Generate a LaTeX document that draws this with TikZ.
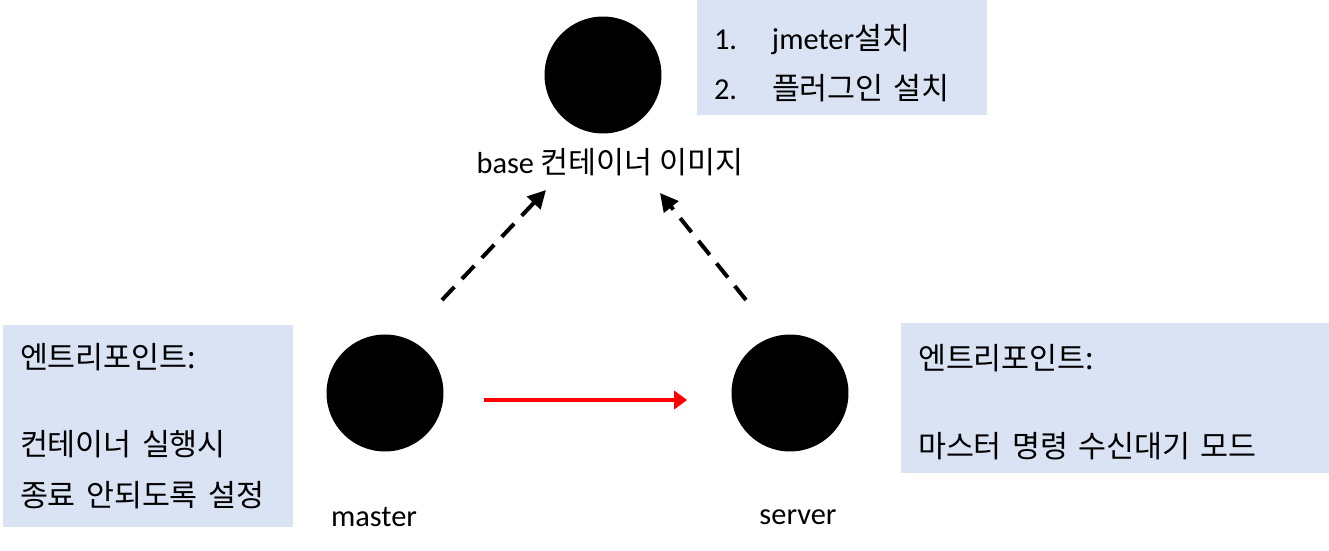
\documentclass[tikz,border=0pt]{standalone}
\usepackage{fontspec}
\setmainfont{Noto Sans CJK KR}
\newfontfamily\latinfont{Carlito}
\usetikzlibrary{arrows.meta, positioning}
\definecolor{noteblue}{RGB}{218,227,243}

\begin{document}
\begin{tikzpicture}[
		x=0.02cm, y=-0.02cm,
		% Define styles for the images, notes and arrows
		image_node/.style={
			circle,
			fill=black,
			minimum size=2.34cm,
			inner sep=0pt
		},
		note_box/.style={
			rectangle,
			fill=noteblue,
			align=left,
			inner xsep=0.34cm,
			inner ysep=0pt,
			font=\fontsize{17.3pt}{28.6pt}\selectfont
		},
		name_label/.style={
			inner sep=0pt,
			font=\fontsize{17.3pt}{20pt}\selectfont
		},
		build_arrow/.style={
			-{Triangle[length=0.36cm, width=0.36cm]},
			line width=0.08cm,
			dash pattern=on 0.36cm off 0.22cm
		},
		run_arrow/.style={
			-{Triangle[length=0.26cm, width=0.36cm]},
			line width=0.09cm,
			draw=red
		},
		]
		\useasboundingbox (0,0) rectangle (1329,551);
		
		% ----- Nodes -----
		% Container images
		\node[image_node] (base_image) at (603,75) {};
		\node[image_node] (master) at (385,393) {};
		\node[image_node] (server) at (790,393) {};
		
		% Image names
		\node[name_label] (base_label) at (610,162) {{\latinfont base} 컨테이너 이미지};
		\node[name_label] (master_label) at (374,517) {\latinfont master};
		\node[name_label] (server_label) at (798,517) {\latinfont server};
		
		% Notes
		\node[note_box, minimum width=5.8cm, minimum height=2.3cm, text width=5.12cm] (base_note) at (842,57.5)
			{\rule{0pt}{21pt}\makebox[1.16cm][l]{\latinfont 1.}{\latinfont jmeter}설치\\\makebox[1.16cm][l]{\latinfont 2.}플러그인 설치};
		\node[note_box, minimum width=5.8cm, minimum height=4.04cm, text width=5.12cm] (master_note) at (148,426)
			{엔트리포인트:\\[21pt]컨테이너 실행시\\종료 안되도록 설정};
		\node[note_box, minimum width=8.56cm, minimum height=3cm, text width=7.88cm] (server_note) at (1115,398)
			{\rule{0pt}{19pt}엔트리포인트:\\[21pt]마스터 명령 수신대기 모드};
		
		% Free ends of the dashed arrows
		\coordinate (master_tail) at (442,300);
		\coordinate (base_tip_left) at (546,190);
		\coordinate (server_tail) at (746,300);
		\coordinate (base_tip_right) at (660,193);
		
		% ----- Arrows -----
		\draw[build_arrow] (master_tail) -- (base_tip_left);
		\draw[build_arrow] (server_tail) -- (base_tip_right);
		\draw[run_arrow, shorten <=0.8cm, shorten >=0.88cm] ([yshift=-0.14cm]master.east) -- ([yshift=-0.14cm]server.west);
		
	\end{tikzpicture}
\end{document}
